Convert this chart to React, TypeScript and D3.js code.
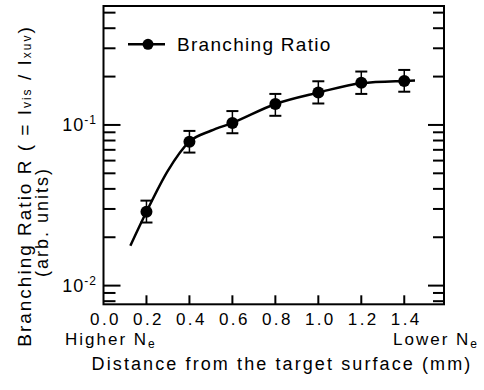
import React from "react";
import * as d3 from "d3";

const distances = [0.2, 0.4, 0.6, 0.8, 1.0, 1.2, 1.4];
const ratio = [0.0288, 0.0787, 0.103, 0.135, 0.159, 0.183, 0.188];
const errLow = [0.0247, 0.0673, 0.0888, 0.114, 0.136, 0.156, 0.161];
const errHigh = [0.0338, 0.0918, 0.122, 0.156, 0.187, 0.215, 0.22];

const curveX = [0.125, 0.2, 0.3, 0.4, 0.5, 0.6, 0.8, 1.0, 1.2, 1.4, 1.45];
const curveY = [0.0177, 0.0288, 0.052, 0.0787, 0.092, 0.103, 0.135, 0.159, 0.182, 0.188, 0.189];

const xTicks = [0, 0.2, 0.4, 0.6, 0.8, 1.0, 1.2, 1.4];
const yMajor = [0.01, 0.1];
const yMajorExp = ["-2", "-1"];
const yMinor = [0.008, 0.009, 0.02, 0.03, 0.04, 0.05, 0.06, 0.07, 0.08, 0.09, 0.2, 0.3, 0.4, 0.5];

const FONT = "'Liberation Sans', Arial, Helvetica, sans-serif";

export default function App() {
  const W = 484, H = 390;
  const x = d3.scaleLinear().domain([0, 1.585]).range([103.5, 444]);
  const y = d3.scaleLog().domain([0.00765, 0.55]).range([304.3, 6]);
  const [x0, x1] = x.range();
  const [y0, y1] = y.range();
  const line = d3
    .line<number>()
    .x((_, i) => x(curveX[i]))
    .y((d) => y(d))
    .curve(d3.curveMonotoneX);
  const path = line(curveY) || "";
  const tc = "#000";
  return (
    <svg width={W} height={H} style={{ position: "absolute", left: 0, top: 0, background: "#fff" }} fontFamily={FONT}>
      <rect x={0} y={0} width={W} height={H} fill="#fff" />
      {/* frame */}
      <rect x={x0} y={y1} width={x1 - x0} height={y0 - y1} fill="none" stroke={tc} strokeWidth={2} />
      {/* y ticks */}
      {yMajor.map((v) => (
        <g key={"M" + v}>
          <line x1={x0} x2={x0 + 17} y1={y(v)} y2={y(v)} stroke={tc} strokeWidth={2} />
          <line x1={x1} x2={x1 - 16} y1={y(v)} y2={y(v)} stroke={tc} strokeWidth={2} />
        </g>
      ))}
      {yMinor.map((v) => (
        <g key={"m" + v}>
          <line x1={x0} x2={x0 + 12} y1={y(v)} y2={y(v)} stroke={tc} strokeWidth={2} />
          <line x1={x1} x2={x1 - 11} y1={y(v)} y2={y(v)} stroke={tc} strokeWidth={2} />
        </g>
      ))}
      {yMajor.map((v, i) => (
        <text key={"l" + v} x={97} y={y(v) + 6.5} textAnchor="end" fontSize={18} fill={tc} letterSpacing={1}>
          10
          <tspan fontSize={12} dy={-7}>{yMajorExp[i]}</tspan>
        </text>
      ))}
      {/* x ticks */}
      {xTicks.filter((v) => v > 0).map((v) => (
        <line key={"xt" + v} x1={x(v)} x2={x(v)} y1={y0} y2={y0 - 9} stroke={tc} strokeWidth={2} />
      ))}
      {xTicks.map((v) => (
        <text key={"xl" + v} x={x(v) + 2} y={325} textAnchor="middle" fontSize={17} fill={tc} letterSpacing={2.4}>
          {v.toFixed(1)}
        </text>
      ))}
      <text x={65} y={345} fontSize={17} fill={tc} letterSpacing={2}>
        Higher N<tspan fontSize={12} dy={3}>e</tspan>
      </text>
      <text x={393} y={345} fontSize={17} fill={tc} letterSpacing={2}>
        Lower N<tspan fontSize={12} dy={3}>e</tspan>
      </text>
      <text x={282} y={370} fontSize={18} fill={tc} textAnchor="middle" letterSpacing={2.1}>
        Distance from the target surface (mm)
      </text>
      {/* y label */}
      <text transform="translate(31,186) rotate(-90)" fontSize={19} fill={tc} textAnchor="middle" letterSpacing={2}>
        Branching Ratio R ( = I<tspan fontSize={12}>vis</tspan> / I<tspan fontSize={12}>xuv</tspan>)
      </text>
      <text transform="translate(48,222) rotate(-90)" fontSize={18} fill={tc} textAnchor="middle" letterSpacing={2}>
        (arb. units)
      </text>
      {/* legend */}
      <line x1={128} x2={165} y1={44.3} y2={44.3} stroke={tc} strokeWidth={2.5} />
      <circle cx={148} cy={44.3} r={5.5} fill={tc} />
      <text x={177} y={51} fontSize={19} fill={tc} letterSpacing={1.3}>Branching Ratio</text>
      {/* curve */}
      <path d={path} fill="none" stroke={tc} strokeWidth={2.5} />
      {/* error bars and points */}
      {distances.map((d, i) => (
        <g key={"p" + d}>
          <line x1={x(d)} x2={x(d)} y1={y(errLow[i])} y2={y(errHigh[i])} stroke={tc} strokeWidth={1.5} />
          <line x1={x(d) - 6} x2={x(d) + 6} y1={y(errLow[i])} y2={y(errLow[i])} stroke={tc} strokeWidth={2} />
          <line x1={x(d) - 6} x2={x(d) + 6} y1={y(errHigh[i])} y2={y(errHigh[i])} stroke={tc} strokeWidth={2} />
          <circle cx={x(d)} cy={y(ratio[i])} r={6} fill={tc} />
        </g>
      ))}
    </svg>
  );
}
